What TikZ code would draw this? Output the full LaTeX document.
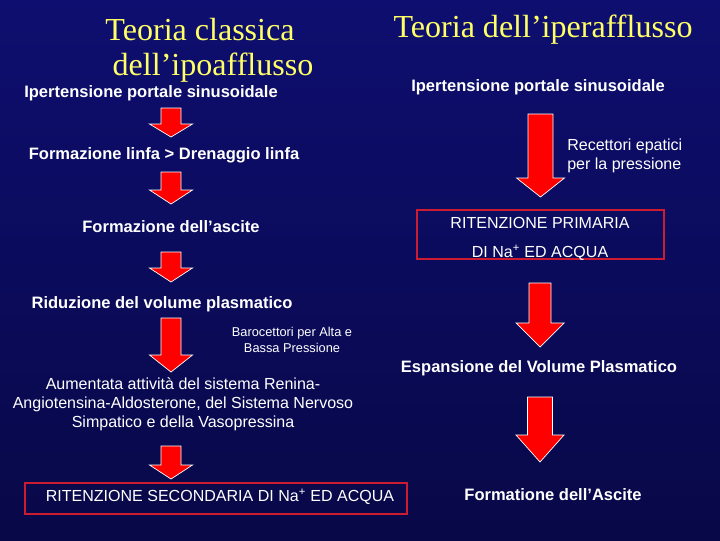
\documentclass[tikz,border=0pt]{standalone}
\usepackage{fontspec}
\setmainfont{Liberation Sans}
\newfontfamily\titlefont{Liberation Serif}[Ligatures=NoCommon]
\usepackage{tikz}

\definecolor{slidetop}{RGB}{14,14,112}
\definecolor{slidemid}{RGB}{0,0,165}
\definecolor{slidebot}{RGB}{8,8,72}
\definecolor{titleyellow}{RGB}{255,255,102}
\definecolor{arrowred}{RGB}{255,0,0}
\definecolor{boxred}{RGB}{205,28,48}

\tikzset{
  titletxt/.style={text=titleyellow, inner sep=0pt, font=\titlefont\fontsize{22.8}{27}\selectfont},
  bodytxt/.style={text=white, inner sep=0pt, font=\bfseries\fontsize{11.75}{14}\selectfont},
  midtxt/.style={text=white, inner sep=0pt, font=\fontsize{11.4}{13.5}\selectfont},
  smalltxt/.style={text=white, inner sep=0pt, align=center, font=\fontsize{9.1}{11.4}\selectfont},
  redbox/.style={draw=boxred, line width=2pt},
  blockarrow/.style={fill=arrowred, draw=white, line width=0.5pt}
}

% #1 centre x, #2 top, #3 head top, #4 tip, #5 half shaft, #6 half head
\newcommand{\downblock}[6]{%
  \draw[blockarrow] (#1-#5,#2) -- (#1+#5,#2) -- (#1+#5,#3) -- (#1+#6,#3)
    -- (#1,#4) -- (#1-#6,#3) -- (#1-#5,#3) -- cycle;}

\begin{document}
\begin{tikzpicture}[x=0.025cm,y=-0.025cm]
  \shade[top color=slidetop, middle color=slidemid, bottom color=slidebot] (0,0) rectangle (720,540);
  \useasboundingbox (0,0) rectangle (720,540);

  % titles
  \node[titletxt] (classA) at (200,30) {Teoria classica};
  \node[titletxt] (classB) at (213,68) {dell’ipoafflusso};
  \node[titletxt] (iper) at (543,30) {Teoria dell’iperafflusso};

  % left column
  \node[bodytxt] (ipoL) at (151,93) {Ipertensione portale sinusoidale};
  \node[bodytxt] (linfa) at (164,155) {Formazione linfa > Drenaggio linfa};
  \node[bodytxt] (asciteL) at (171,227) {Formazione dell’ascite};
  \node[bodytxt] (riduz) at (162,304) {Riduzione del volume plasmatico};
  \node[smalltxt] (baro) at (292,340) {Barocettori per Alta e\\Bassa Pressione};
  \node[midtxt, align=center, font=\fontsize{11.4}{13.5}\selectfont] (raas) at (183,404)
    {Aumentata attività del sistema Renina-\\Angiotensina-Aldosterone, del Sistema Nervoso\\Simpatico e della Vasopressina};
  \node[redbox, minimum width=9.55cm, minimum height=0.775cm] (ritsec) at (216,498.5) {};
  \node[midtxt] (ritsectxt) at (220,497) {RITENZIONE SECONDARIA DI Na\textsuperscript{+} ED ACQUA};

  \downblock{171}{108}{124}{137}{10}{21.5}
  \downblock{171}{172}{190}{204}{10}{21.5}
  \downblock{171}{252}{268}{282}{10}{21.5}
  \downblock{171}{318}{355}{372}{10}{21.5}
  \downblock{171}{446}{465}{479}{10}{21.5}

  % right column
  \node[bodytxt] (ipoR) at (538,87) {Ipertensione portale sinusoidale};
  \node[midtxt, anchor=west, align=left] (recett) at (567,156) {Recettori epatici\\per la pressione};
  \node[redbox, minimum width=6.175cm, minimum height=1.225cm] (ritprim) at (540.5,234.5) {};
  \node[midtxt, align=center, font=\fontsize{11.4}{20.6}\selectfont] (ritprimtxt) at (540,238.5)
    {RITENZIONE PRIMARIA\\DI Na\textsuperscript{+} ED ACQUA};
  \node[bodytxt] (espans) at (539,368) {Espansione del Volume Plasmatico};
  \node[bodytxt] (asciteR) at (553,495) {Formatione dell’Ascite};

  \downblock{540.5}{114}{178}{197}{12.5}{24}
  \downblock{540}{283}{323}{347}{11}{24}
  \downblock{540}{397}{435}{462}{12.5}{24}
\end{tikzpicture}
\end{document}
